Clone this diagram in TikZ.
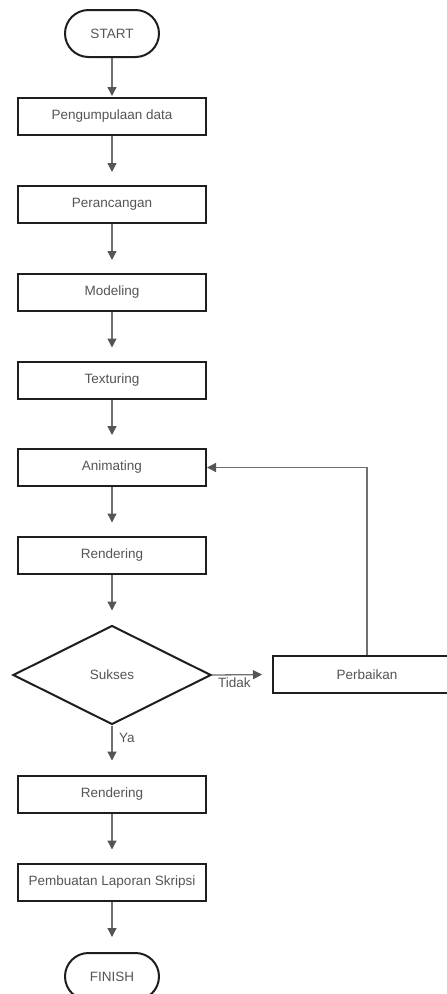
\documentclass[tikz,border=0pt]{standalone}
\usepackage{fontspec}
\setmainfont{Liberation Sans}
\usetikzlibrary{arrows.meta,shapes.geometric}
\definecolor{txt}{HTML}{555555}
\definecolor{edge}{HTML}{1E1E1E}
\definecolor{conn}{HTML}{707070}
\definecolor{tip}{HTML}{555555}
\tikzset{
  stepbox/.style={draw=edge,line width=2pt,minimum width=188pt,minimum height=37pt,inner sep=0pt,text=txt,font=\fontsize{13.5}{15}\selectfont},
  term/.style={draw=edge,line width=2pt,minimum width=94pt,minimum height=47pt,rounded corners=23.5pt,inner sep=0pt,text=txt,font=\fontsize{13.5}{15}\selectfont},
  decide/.style={draw=edge,line width=2pt,diamond,minimum width=198pt,minimum height=99pt,inner sep=0pt,text=txt,font=\fontsize{13.5}{15}\selectfont},
  conn/.style={draw=conn,line width=1.3pt,-{Triangle[length=9pt,width=9pt,color=tip]}},
  lbl/.style={text=txt,font=\fontsize{13.5}{15}\selectfont,inner sep=0pt}
}
\begin{document}
\begin{tikzpicture}[x=1pt,y=-1pt]
\clip (0,0) rectangle (447,994);
\fill[white] (0,0) rectangle (447,994);
\node[term] (start) at (112,33.5) {START};
\node[stepbox] (peng) at (112,116.5) {Pengumpulaan data};
\node[stepbox] (peran) at (112,204.5) {Perancangan};
\node[stepbox] (model) at (112,292.5) {Modeling};
\node[stepbox] (tex) at (112,380) {Texturing};
\node[stepbox] (anim) at (112,467.5) {Animating};
\node[stepbox] (rend) at (112,555) {Rendering};
\node[decide] (suk) at (112,675) {Sukses};
\node[stepbox] (perb) at (367,674.5) {Perbaikan};
\node[stepbox] (rend2) at (112,794) {Rendering};
\node[stepbox] (lap) at (112,882) {Pembuatan Laporan Skripsi};
\node[term] (fin) at (112,976.5) {FINISH};
\draw[conn,shorten >=1pt] (start) -- (peng);
\draw[conn,shorten >=13pt] (peng) -- (peran);
\draw[conn,shorten >=13pt] (peran) -- (model);
\draw[conn,shorten >=13pt] (model) -- (tex);
\draw[conn,shorten >=13pt] (tex) -- (anim);
\draw[conn,shorten >=13pt] (anim) -- (rend);
\draw[conn,shorten >=14pt] (rend) -- (suk);
\draw[conn,shorten >=10pt] (suk.east) -- (perb.west);
\draw[conn] (perb.north) |- (anim.east);
\draw[conn,shorten >=14pt] (suk.south) -- (rend2.north);
\draw[conn,shorten >=13pt] (rend2) -- (lap);
\draw[conn,shorten >=15pt] (lap) -- (fin);
\node[lbl,anchor=west] (tidak) at (218,683) {Tidak};
\node[lbl,anchor=west] (ya) at (119,738) {Ya};
\end{tikzpicture}
\end{document}
